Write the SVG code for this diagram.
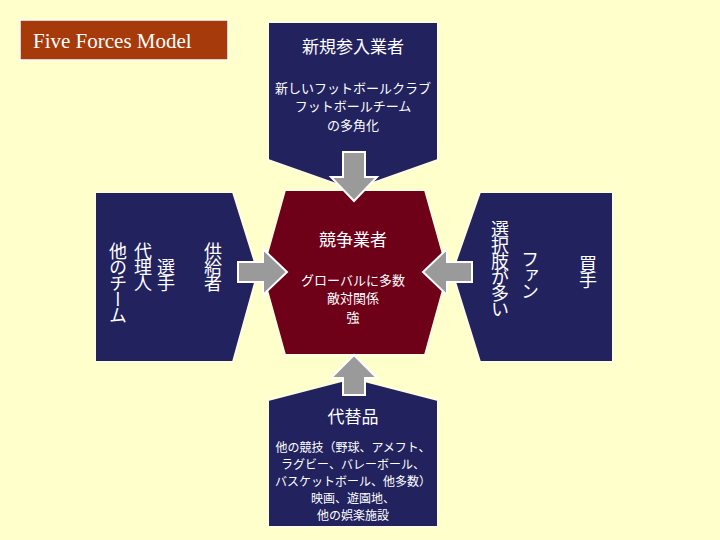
<svg xmlns="http://www.w3.org/2000/svg" width="720" height="540" viewBox="0 0 720 540">
<style>
.n{fill:#22225f;stroke:#fffde0;stroke-width:2}
.t{fill:#fff;font-family:"Noto Sans CJK JP","Noto Sans",sans-serif}
.v{fill:#fff;font-family:"Noto Sans CJK JP",sans-serif;font-size:18px;writing-mode:vertical-rl;text-orientation:upright;letter-spacing:-2px}
.a{fill:#9a9a9a;stroke:#fff;stroke-width:2}
</style>
<rect width="720" height="540" fill="#ffffcc"/>
<g id="title"><rect x="20" y="20" width="208" height="40" fill="#a63a0a" stroke="#fff" stroke-width="1.5"/>
<text x="33" y="48" fill="#fff" font-family="Liberation Serif,serif" font-size="21">Five Forces Model</text></g>
<g id="entrants"><polygon class="n" points="268,22 438,22 438,160 353,190 268,160"/>
<text class="t" x="353" y="53" text-anchor="middle" font-size="17">新規参入業者</text>
<text class="t" x="353" y="93" text-anchor="middle" font-size="13">新しいフットボールクラブ</text>
<text class="t" x="353" y="111" text-anchor="middle" font-size="13">フットボールチーム</text>
<text class="t" x="353" y="130" text-anchor="middle" font-size="13">の多角化</text></g>
<g id="competitors"><polygon points="285,190 425,190 448,272 425,355 285,355 262,272" fill="#6e0018" stroke="#fffde0" stroke-width="2"/>
<text class="t" x="353" y="246" text-anchor="middle" font-size="17">競争業者</text>
<text class="t" x="353" y="285" text-anchor="middle" font-size="13">グローバルに多数</text>
<text class="t" x="353" y="303" text-anchor="middle" font-size="13">敵対関係</text>
<text class="t" x="353" y="322" text-anchor="middle" font-size="13">強</text></g>
<g id="suppliers"><polygon class="n" points="95,192 233,192 258,272 233,362 95,362"/>
<text class="v" x="213" y="242">供給者</text>
<text class="v" x="166" y="258">選手</text>
<text class="v" x="143" y="242">代理人</text>
<text class="v" x="118" y="242">他のチーム</text></g>
<g id="buyers"><polygon class="n" points="480,192 613,192 613,362 480,362 452,272"/>
<text class="v" x="500" y="220">選択肢が多い</text>
<text class="v" x="530" y="250">ファン</text>
<text class="v" x="588" y="255">買手</text></g>
<g id="substitutes"><polygon class="n" points="353,378 438,400 438,527 268,527 268,400"/>
<text class="t" x="353" y="423" text-anchor="middle" font-size="17">代替品</text>
<text class="t" x="353" y="452" text-anchor="middle" font-size="12">他の競技（野球、アメフト、</text>
<text class="t" x="353" y="469" text-anchor="middle" font-size="12">ラグビー、バレーボール、</text>
<text class="t" x="353" y="486" text-anchor="middle" font-size="12">バスケットボール、他多数）</text>
<text class="t" x="353" y="503" text-anchor="middle" font-size="12">映画、遊園地、</text>
<text class="t" x="353" y="520" text-anchor="middle" font-size="12">他の娯楽施設</text></g>
<g id="connectors">
<polygon class="a" points="343,152 365,152 365,177 377,177 354,201 331,177 343,177"/>
<polygon class="a" points="238,262 263,262 263,249 287,272 263,295 263,282 238,282"/>
<polygon class="a" points="472,262 447,262 447,249 423,272 447,295 447,282 472,282"/>
<polygon class="a" points="343,395 365,395 365,378 377,378 354,355 331,378 343,378"/>
</g>
</svg>
